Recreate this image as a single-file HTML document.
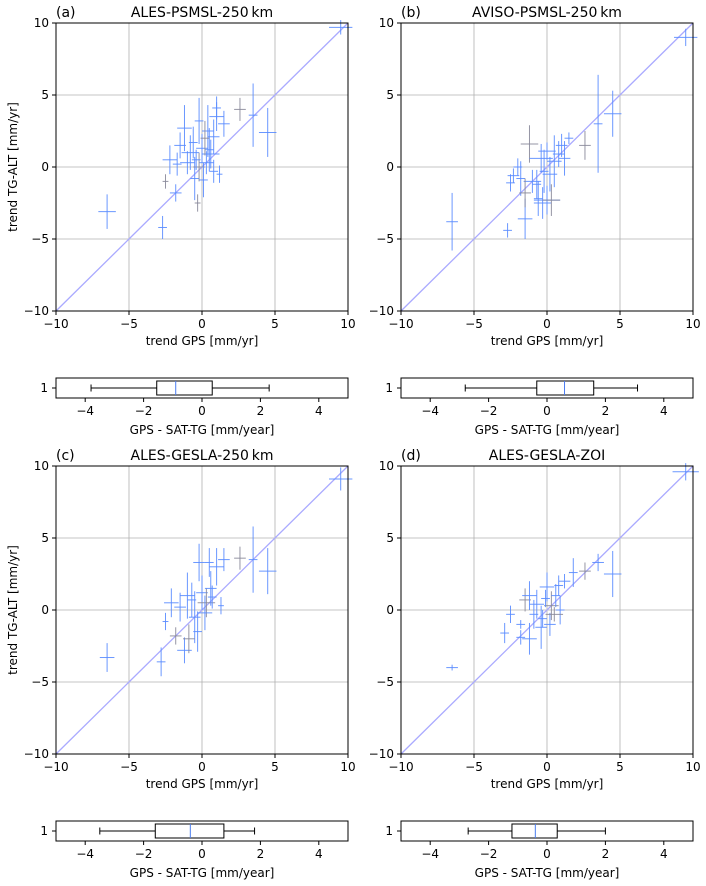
<!DOCTYPE html>
<html><head><meta charset="utf-8"><style>
body{margin:0;background:#fff;}
svg{display:block;font-family:"DejaVu Sans","Liberation Sans",sans-serif;}
text{fill:#000;}
</style></head><body>
<svg id="c" width="706" height="886" xmlns="http://www.w3.org/2000/svg"></svg>
<script>
// Panel data: x, y, xerr, yerr
const xA=[9.5,4.5,3.5,2.6,1.5,1.0,0.8,0.5,-6.5,-2.7,-2.5,-2.2,-1.8,-1.2,-1.5,-1.0,-0.5,-0.3,-0.2,0,0.3,0.8,1.2,-0.8,-0.2,0.1,0.4,-1.7,0.6,-0.4,1.0,0.2,-0.6];
const yA=[9.7,2.4,3.6,4.0,3.0,3.5,2.1,1.2,-3.1,-4.2,-1.0,0.5,-1.8,2.7,1.5,0.3,-0.8,-2.5,3.2,1.3,0.3,-0.3,-0.5,1.0,0,-0.9,2.5,0.2,0.9,0.5,4.1,2.0,1.7];
const xeA=[0.8,0.6,0.3,0.4,0.4,0.5,0.4,0.3,0.6,0.3,0.2,0.5,0.4,0.5,0.4,0.5,0.3,0.2,0.3,0.4,0.5,0.3,0.2,0.6,0.4,0.3,0.4,0.3,0.6,0.3,0.3,0.3,0.3];
const yeA=[0.5,1.7,2.2,0.8,0.9,1.0,1.2,1.5,1.2,0.8,0.5,1.0,0.6,1.6,0.9,0.8,1.5,0.6,1.6,1.0,0.8,0.8,0.6,1.2,1.0,1.2,1.8,0.8,1.0,0.7,0.8,1.2,1.1];
const xB=[9.5,4.5,3.5,2.6,1.5,1.0,-6.5,-2.7,-2.5,-1.8,-1.2,-2.0,-1.5,-1.0,-0.6,-0.3,0,0.3,0.5,0.8,-0.4,0,-0.7,0.2,-1.5,-2.3,1.2,-0.2];
const yB=[9.0,3.7,3.0,1.5,2.0,1.5,-3.8,-4.4,-1.1,-0.8,1.6,0.0,-3.6,-1.0,-2.2,-2.5,-2.3,-2.3,0.4,0.9,0.6,1.1,-1.2,-0.5,-1.8,-0.6,0.6,-0.3];
const xeB=[0.8,0.6,0.3,0.4,0.3,0.4,0.4,0.3,0.3,0.3,0.6,0.3,0.5,0.6,0.3,0.6,0.9,0.6,0.5,0.4,0.8,0.6,0.3,0.5,0.4,0.4,0.4,0.3];
const yeB=[0.6,1.6,3.4,1.0,0.4,0.8,2.0,0.5,0.6,1.2,1.3,0.6,1.4,0.8,1.2,1.1,1.0,1.1,1.8,0.9,1.0,0.6,1.0,1.2,1.0,0.5,1.2,1.5];
const xC=[9.5,4.5,3.5,2.6,1.5,1,-6.5,-2.8,-2.5,-2.1,-1.8,-1.2,-1.5,-1.0,-0.5,-0.2,0,0.3,0.7,1.3,-0.7,0.5,-0.3,0.2,-0.9,0.6];
const yC=[9.1,2.7,3.5,3.6,3.5,3.0,-3.3,-3.6,-0.8,0.5,-1.8,-2.8,0.2,1.0,-0.5,3.3,1.2,0.5,0.9,0.3,0.7,3.3,-1.5,-0.2,-2.0,1.5];
const xeC=[0.8,0.6,0.3,0.4,0.4,0.5,0.5,0.3,0.2,0.5,0.4,0.5,0.4,0.5,0.4,0.4,0.4,0.6,0.3,0.2,0.3,0.3,0.3,0.5,0.4,0.4];
const yeC=[0.8,1.6,2.3,0.8,0.8,1.3,1.0,1.0,0.6,1.0,0.6,0.9,1.0,1.6,1.8,1.3,1.2,1.0,0.8,0.6,1.2,1.0,1.4,1.2,1.0,1.2];
const xD=[9.5,4.5,3.5,2.6,1.8,1.2,-6.5,-2.9,-2.5,-1.8,-1.5,-1.2,-1.8,-1.2,-0.7,-0.4,0,0.3,0.6,0.9,-0.3,0.2,0.8,-0.9,0.5,-0.1];
const yD=[9.6,2.5,3.3,2.7,2.6,2.0,-4.0,-1.6,-0.3,-1.0,0.7,1.0,-1.9,-2.0,0.4,-1.2,1.6,0.3,1.0,0.0,-0.6,-1.0,1.7,-0.3,-0.3,0.8];
const xeD=[0.9,0.6,0.4,0.4,0.3,0.4,0.4,0.3,0.3,0.3,0.4,0.5,0.3,0.5,0.5,0.4,0.5,0.5,0.3,0.3,0.3,0.4,0.3,0.3,0.6,0.3];
const yeD=[0.6,1.6,0.6,0.6,1.0,0.5,0.2,0.7,0.6,0.3,0.8,1.0,0.5,1.1,1.0,1.5,1.0,1.0,0.8,1.0,0.6,0.8,0.7,1.0,0.5,0.6];
// Box stats: [whiskerLo, q1, median, q3, whiskerHi]
const boxA=[-3.8,-1.55,-0.9,0.35,2.3];
const boxB=[-2.8,-0.35,0.6,1.6,3.1];
const boxC=[-3.5,-1.6,-0.4,0.75,1.8];
const boxD=[-2.7,-1.2,-0.4,0.35,2.0];
const scatTicks=[-10,-5,0,5,10];
const boxTicks=[-4,-2,0,2,4];
const titles=["ALES-PSMSL-250\u2009km","AVISO-PSMSL-250\u2009km","ALES-GESLA-250\u2009km","ALES-GESLA-ZOI"];
const letters=["(a)","(b)","(c)","(d)"];

const NS="http://www.w3.org/2000/svg";
const svg=document.getElementById('c');
function el(tag,attrs,parent,txt){const e=document.createElementNS(NS,tag);for(const k in attrs)e.setAttribute(k,attrs[k]);if(txt!==undefined)e.textContent=txt;(parent||svg).appendChild(e);return e;}

const panels=[
 {x0:56,y0:23,xs:xA,ys:yA,xe:xeA,ye:yeA,box:boxA,by:378,ylab:true},
 {x0:401,y0:23,xs:xB,ys:yB,xe:xeB,ye:yeB,box:boxB,by:378,ylab:false},
 {x0:56,y0:466,xs:xC,ys:yC,xe:xeC,ye:yeC,box:boxC,by:821,ylab:true},
 {x0:401,y0:466,xs:xD,ys:yD,xe:xeD,ye:yeD,box:boxD,by:821,ylab:false}
];
const W=292,H=288;
panels.forEach((p,i)=>{
 const g=el('g',{},svg);
 
 
 const sx=v=>p.x0+(v+10)/20*W, sy=v=>p.y0+H-(v+10)/20*H;
 scatTicks.forEach(t=>{
  el('line',{x1:sx(t),x2:sx(t),y1:p.y0,y2:p.y0+H,stroke:'#b0b0b0','stroke-width':0.8},g);
  el('line',{y1:sy(t),y2:sy(t),x1:p.x0,x2:p.x0+W,stroke:'#b0b0b0','stroke-width':0.8},g);
  el('line',{x1:sx(t),x2:sx(t),y1:p.y0+H,y2:p.y0+H+4,stroke:'#000'},g);
  el('line',{y1:sy(t),y2:sy(t),x1:p.x0-4,x2:p.x0,stroke:'#000'},g);
  const xl=el('text',{x:sx(t),y:p.y0+H+17,'text-anchor':'middle','font-size':12},g,t<0?'\u2212'+(-t):t);
  
  const yl=el('text',{x:p.x0-7,y:sy(t)+4,'text-anchor':'end','font-size':12},g,t<0?'\u2212'+(-t):t);
  
 });
 const d=el('line',{x1:sx(-10),y1:sy(-10),x2:sx(10),y2:sy(10),stroke:'#aaaaff','stroke-width':1.3},g);
 
 p.xs.forEach((x,j)=>{
  const y=p.ys[j];
  const c=el('g',{stroke:(j%7==3)?'#8a8a9a':'#5a8cff','stroke-width':1,'stroke-opacity':0.9},g);
  
  
  el('line',{x1:sx(x-p.xe[j]),x2:sx(x+p.xe[j]),y1:sy(y),y2:sy(y)},c);
  el('line',{x1:sx(x),x2:sx(x),y1:sy(y-p.ye[j]),y2:sy(y+p.ye[j])},c);
 });
 el('rect',{x:p.x0,y:p.y0,width:W,height:H,fill:'none',stroke:'#000','stroke-width':1},g);
 const lt=el('text',{x:p.x0,y:p.y0-6,'font-size':14},g,letters[i]);
 
 const tt=el('text',{x:p.x0+W/2,y:p.y0-6,'font-size':14,'text-anchor':'middle'},g,titles[i]);
 
 const xt=el('text',{x:p.x0+W/2,y:p.y0+H+34,'font-size':12,'text-anchor':'middle'},g,'trend GPS [mm/yr]');
 
 if(p.ylab){const yt=el('text',{x:0,y:0,'font-size':12,'text-anchor':'middle',transform:`translate(17,${p.y0+H/2}) rotate(-90)`},g,'trend TG-ALT [mm/yr]');
  }
 const bx=v=>p.x0+(v+5)/10*W, by=p.by, bh=20, cy=by+bh/2;
 const bg=el('g',{},g);
 
 
 el('rect',{x:p.x0,y:by,width:W,height:bh,fill:'none',stroke:'#000'},bg);
 const b=p.box;
 el('line',{x1:bx(b[0]),x2:bx(b[1]),y1:cy,y2:cy,stroke:'#000'},bg);
 el('line',{x1:bx(b[3]),x2:bx(b[4]),y1:cy,y2:cy,stroke:'#000'},bg);
 el('line',{x1:bx(b[0]),x2:bx(b[0]),y1:cy-3.5,y2:cy+3.5,stroke:'#000'},bg);
 el('line',{x1:bx(b[4]),x2:bx(b[4]),y1:cy-3.5,y2:cy+3.5,stroke:'#000'},bg);
 el('rect',{x:bx(b[1]),y:cy-7,width:bx(b[3])-bx(b[1]),height:14,fill:'none',stroke:'#000'},bg);
 el('line',{x1:bx(b[2]),x2:bx(b[2]),y1:cy-7,y2:cy+7,stroke:'#4a7cf0','stroke-width':1},bg);
 boxTicks.forEach(t=>{
  el('line',{x1:bx(t),x2:bx(t),y1:by+bh,y2:by+bh+4,stroke:'#000'},bg);
  const l=el('text',{x:bx(t),y:by+bh+17,'font-size':12,'text-anchor':'middle'},bg,t<0?'\u2212'+(-t):t);
  
 });
 el('line',{x1:p.x0-4,x2:p.x0,y1:cy,y2:cy,stroke:'#000'},bg);
 el('text',{x:p.x0-8,y:cy+4,'font-size':12,'text-anchor':'end'},bg,'1');
 const bt=el('text',{x:p.x0+W/2,y:by+bh+36,'font-size':12,'text-anchor':'middle'},bg,'GPS - SAT-TG [mm/year]');
 
});
</script>
</body></html>
